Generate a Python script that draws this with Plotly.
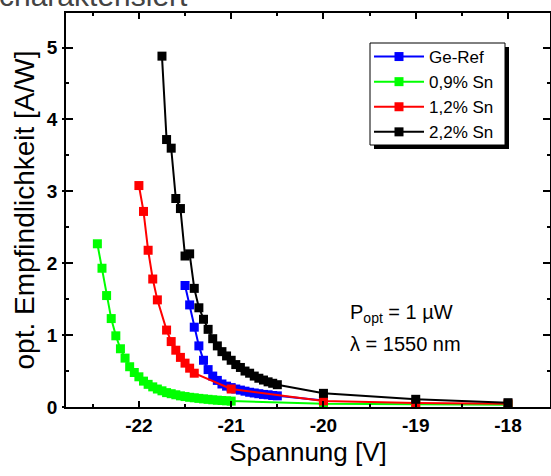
import plotly.graph_objects as go

# Ge-Ref
ref_x = [-21.50, -21.45, -21.40, -21.35, -21.30, -21.25, -21.20, -21.15, -21.10, -21.05,
         -21.00, -20.95, -20.90, -20.85, -20.80, -20.75, -20.70, -20.65, -20.60, -20.55,
         -20.50, -20.00]
ref_y = [1.69, 1.42, 1.11, 0.85, 0.65, 0.52, 0.43, 0.37, 0.32, 0.29,
         0.27, 0.25, 0.235, 0.22, 0.205, 0.195, 0.185, 0.175, 0.17, 0.16,
         0.155, 0.09]

# 0,9% Sn
sn09_x = [-22.45, -22.40, -22.35, -22.30, -22.25, -22.20, -22.15, -22.10, -22.05, -22.00,
          -21.95, -21.90, -21.85, -21.80, -21.75, -21.70, -21.65, -21.60, -21.55, -21.50,
          -21.45, -21.40, -21.35, -21.30, -21.25, -21.20, -21.15, -21.10, -21.05, -21.00,
          -20.00, -19.00, -18.00]
sn09_y = [2.27, 1.93, 1.55, 1.23, 0.99, 0.81, 0.68, 0.56, 0.48, 0.42,
          0.36, 0.315, 0.28, 0.25, 0.225, 0.20, 0.185, 0.17, 0.155, 0.145,
          0.135, 0.128, 0.12, 0.113, 0.107, 0.10, 0.095, 0.09, 0.086, 0.082,
          0.045, 0.035, 0.03]

# 1,2% Sn
sn12_x = [-22.00, -21.95, -21.90, -21.85, -21.80, -21.70, -21.65, -21.60, -21.55, -21.50,
          -21.45, -21.40, -21.00, -20.00, -19.00, -18.00]
sn12_y = [3.08, 2.72, 2.18, 1.78, 1.49, 1.07, 0.91, 0.79, 0.69, 0.61,
          0.54, 0.47, 0.25, 0.085, 0.055, 0.045]

# 2,2% Sn
sn22_x = [-21.75, -21.70, -21.65, -21.60, -21.55, -21.50, -21.45, -21.40, -21.35, -21.30,
          -21.25, -21.20, -21.15, -21.10, -21.05, -21.00, -20.95, -20.90, -20.85, -20.80,
          -20.75, -20.70, -20.65, -20.60, -20.55, -20.50, -20.00, -19.00, -18.00]
sn22_y = [4.88, 3.72, 3.60, 2.90, 2.76, 2.10, 2.13, 1.65, 1.38, 1.22,
          1.08, 0.95, 0.85, 0.77, 0.71, 0.65, 0.59, 0.55, 0.50, 0.47,
          0.43, 0.40, 0.375, 0.35, 0.33, 0.31, 0.19, 0.107, 0.06]

x_ticks = [-22, -21, -20, -19, -18]
y_ticks = [0, 1, 2, 3, 4, 5]

series = [
    ("Ge-Ref", ref_x, ref_y, "#0000ff"),
    ("0,9% Sn", sn09_x, sn09_y, "#00ff00"),
    ("1,2% Sn", sn12_x, sn12_y, "#ff0000"),
    ("2,2% Sn", sn22_x, sn22_y, "#000000"),
]

FONT = "Arial, Liberation Sans, sans-serif"

fig = go.Figure()
for name, xs, ys, col in series:
    fig.add_scatter(x=xs, y=ys, name=name, mode="lines+markers",
                    line=dict(color=col, width=2),
                    marker=dict(symbol="square", size=9, color=col))

# unsichtbare Spur, damit die zweite y-Achse (Ticks nach aussen) gezeichnet wird
fig.add_scatter(x=[x_ticks[0]], y=[y_ticks[0]], yaxis="y2", mode="markers",
                marker=dict(opacity=0), showlegend=False, hoverinfo="skip")

W, H = 551, 476
L, R, T, B = 66, 1, 13, 69

def px_x(p):
    return (p - L) / (W - L - R)

def px_y(p):
    return (H - B - p) / (H - T - B)

# Rahmen der Legende selbst zeichnen (Schatten + weisse Box), Legende transparent darueber
BOX_L, BOX_T, BOX_R, BOX_B = 370, 43, 505, 145
fig.add_shape(type="rect", xref="paper", yref="paper",
              x0=px_x(BOX_L + 4), x1=px_x(BOX_R + 4),
              y0=px_y(BOX_B + 4), y1=px_y(BOX_T + 4),
              fillcolor="black", line=dict(width=0), layer="above")
fig.add_shape(type="rect", xref="paper", yref="paper",
              x0=px_x(BOX_L), x1=px_x(BOX_R),
              y0=px_y(BOX_B), y1=px_y(BOX_T),
              fillcolor="white", line=dict(color="black", width=1), layer="above")

fig.add_annotation(text="P<sub>opt</sub> = 1 µW", xref="paper", yref="paper",
                   x=px_x(348), y=px_y(313), xanchor="left", yanchor="middle",
                   showarrow=False, font=dict(family=FONT, size=20, color="black"))
fig.add_annotation(text="λ = 1550 nm", xref="paper", yref="paper",
                   x=px_x(348), y=px_y(344), xanchor="left", yanchor="middle",
                   showarrow=False, font=dict(family=FONT, size=20, color="black"))
fig.add_annotation(text="charakterisiert", xref="paper", yref="paper",
                   x=px_x(-3), y=1, xanchor="left", yanchor="bottom", yshift=-1,
                   showarrow=False, font=dict(family=FONT, size=30, color="#444444"))

fig.update_layout(
    width=W, height=H,
    margin=dict(l=L, r=R, t=T, b=B, autoexpand=False),
    plot_bgcolor="white", paper_bgcolor="white",
    font=dict(family=FONT, color="black"),
    showlegend=True,
    legend=dict(x=px_x(369), y=px_y(39), xanchor="left", yanchor="top",
                bgcolor="rgba(0,0,0,0)", borderwidth=0,
                font=dict(family=FONT, size=17), itemwidth=50,
                tracegroupgap=0),
    xaxis=dict(
        range=[-22.79, -17.545], automargin=False,
        tickvals=x_ticks, ticktext=[str(v) for v in x_ticks],
        ticks="inside", ticklen=6, tickwidth=1.5, tickcolor="black",
        minor=dict(dtick=0.5, ticks="inside", ticklen=3, tickwidth=1.5, tickcolor="black"),
        showline=True, linecolor="black", linewidth=1.5, mirror="ticks",
        showgrid=False, zeroline=False,
        tickfont=dict(family=FONT, size=19, color="black", weight="bold"),
        title=dict(text="Spannung [V]", font=dict(family=FONT, size=26), standoff=8),
    ),
    yaxis=dict(
        range=[0, 5.48], automargin=False,
        tickvals=y_ticks, ticktext=[str(v) for v in y_ticks],
        ticks="inside", ticklen=7, tickwidth=1.5, tickcolor="black",
        minor=dict(dtick=0.5, ticks="inside", ticklen=3, tickwidth=1.5, tickcolor="black"),
        showline=True, linecolor="black", linewidth=1.5, mirror="ticks",
        showgrid=False, zeroline=False,
        ticklabelstandoff=3,
        tickfont=dict(family=FONT, size=19, color="black", weight="bold"),
        title=dict(text="opt. Empfindlichkeit [A/W]", font=dict(family=FONT, size=28), standoff=4),
    ),
    yaxis2=dict(
        range=[0, 5.48], overlaying="y", side="left", automargin=False,
        tickvals=y_ticks, showticklabels=False,
        ticks="outside", ticklen=3, tickwidth=1.5, tickcolor="black",
        showline=False, showgrid=False, zeroline=False,
    ),
)

# Seitenrand des Browsers entfernen, damit das Bild bei (0, 0) beginnt
fig.write_html("out.html", config={"displayModeBar": False},
               post_script="document.body.style.margin = '0';")
